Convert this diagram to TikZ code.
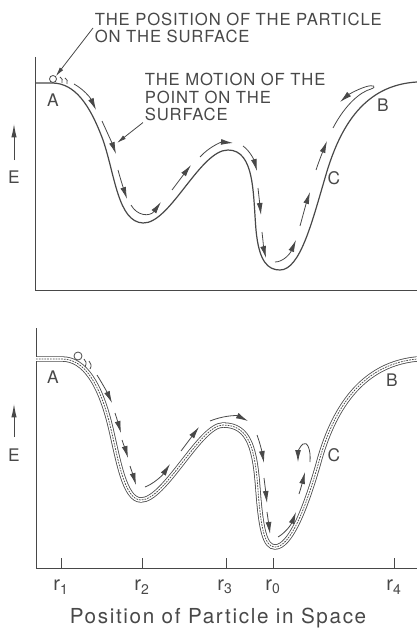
\documentclass[tikz,border=0pt]{standalone}
\usepackage{fontspec}
\setmainfont{TeX Gyre Heros}[LetterSpace=5]
\usetikzlibrary{arrows.meta}
\definecolor{ink}{RGB}{72,72,72}
\tikzset{every picture/.style={line width=0.75pt},
  surface/.style={draw=ink, line width=0.9pt},
  band/.style={draw=ink, line width=0.6pt, double=white, double distance=2.8pt},
  beads/.style={draw=ink, line width=0.55pt, dash pattern=on 1.3pt off 0.8pt},
  motion/.style={draw=ink, line width=0.6pt, -{Latex[length=9pt,width=4.4pt]}},
  leader/.style={draw=ink, line width=0.6pt, -{Latex[length=7pt,width=3.2pt]}},
  axis/.style={draw=ink, line width=0.7pt},
  lbl/.style={text=ink, font=\fontsize{13}{15}\selectfont},
  rlbl/.style={text=ink, font=\fontsize{15}{17}\selectfont},
  note/.style={text=ink, align=left, anchor=west, inner sep=1pt, font=\fontsize{12.5}{13}\selectfont}}
\begin{document}
\begin{tikzpicture}[x=0.75pt,y=0.75pt,yscale=-1,xscale=1]
\useasboundingbox (0,0) rectangle (417,631);

%%% Upper graph
%Shape: Axes
\draw [axis] (35,57) -- (35,290) -- (417,290) ;
%Curve Lines: surface
\draw [surface] (35,83) -- (52,83) .. controls (75,83) and (90,105) .. (103,140) .. controls (115,175) and (118,222) .. (143,223) .. controls (170,224) and (200,150) .. (228,150) .. controls (255,150) and (253,195) .. (256,230) .. controls (259,262) and (268,270) .. (280,270) .. controls (300,270) and (312,222) .. (325,178) .. controls (340,125) and (365,85) .. (417,82) ;
%Shape: Circle (particle)
\node [circle, draw=ink, line width=0.6pt, minimum size=5.25pt, inner sep=0pt] (partA) at (53,79) {} ;
\draw [ink, line width=0.6pt] (60,77) .. controls (62,78) and (63,80) .. (62,83) ;
\draw [ink, line width=0.6pt] (65,78) .. controls (67,79) and (68,81) .. (67,84) ;
%Curve Lines: motion of the point
\draw [motion] (74,84) .. controls (83,89) and (90,97) .. (96,110) ;
\draw [motion] (102,121) .. controls (107,132) and (112,143) .. (116,154) ;
\draw [motion] (118,170) .. controls (121,181) and (124,190) .. (127,199) ;
\draw [motion] (131,205) .. controls (137,216) and (150,217) .. (161,202) ;
\draw [motion] (172,190) .. controls (178,182) and (184,174) .. (191,165) ;
\draw [motion] (200,157) .. controls (210,146) and (222,142) .. (233,143) ;
\draw [motion] (243,146) .. controls (250,151) and (254,160) .. (257,171) ;
\draw [motion] (258,188) .. controls (259,197) and (260,206) .. (261,215) ;
\draw [motion] (262,232) .. controls (263,241) and (264,250) .. (266,258) ;
\draw [motion] (275,262) .. controls (283,262) and (290,254) .. (296,240) ;
\draw [motion] (300,226) .. controls (303,215) and (306,204) .. (310,192) ;
\draw [motion] (316,170) .. controls (319,161) and (323,151) .. (327,141) ;
\draw [motion] (333,128) .. controls (345,105) and (360,92) .. (371,89) .. controls (377,87) and (374,84) .. (365,87) .. controls (356,90) and (348,95) .. (340,102) ;

% Text Node
\node [note] (posnote) at (93,28) {THE POSITION OF THE PARTICLE\\ON THE SURFACE} ;
\draw [leader] (posnote.west) -- (partA.north east) ;
% Text Node
\node [note] (motionnote) at (143,97) {THE MOTION OF THE\\POINT ON THE\\SURFACE} ;
\coordinate (mtip) at (117,143) ;
\draw [leader] (motionnote.south west) -- (mtip) ;
% Text Node
\node [lbl] (labA1) at (53,100) {A} ;
\node [lbl] (labB1) at (383,105) {B} ;
\node [lbl] (labC1) at (334,178) {C} ;
\node [lbl] (labE1) at (14,177) {E} ;
\coordinate (ebot1) at (14,160) ;
\coordinate (etop1) at (14,124) ;
\draw [ink, line width=0.7pt, -{Latex[length=10pt,width=4pt]}] (ebot1) -- (etop1) ;

%%% Lower graph
%Shape: Axes
\draw [axis] (36,328) -- (36,568) -- (417,568) ;
\draw [axis] (61,568) -- (61,558) ;
\draw [axis] (142,568) -- (142,558) ;
\draw [axis] (226,568) -- (226,558) ;
\draw [axis] (273,568) -- (273,558) ;
\draw [axis] (394,568) -- (394,558) ;
%Curve Lines: surface
\draw [band] (36,359) -- (62,359) .. controls (85,359) and (100,385) .. (110,425) .. controls (118,458) and (124,500) .. (141,500) .. controls (165,500) and (200,425) .. (223,425) .. controls (250,425) and (255,450) .. (258,490) .. controls (261,530) and (265,547) .. (275,547) .. controls (290,547) and (305,510) .. (318,465) .. controls (330,420) and (355,365) .. (417,359) ;
\draw [beads] (36,359) -- (62,359) .. controls (85,359) and (100,385) .. (110,425) .. controls (118,458) and (124,500) .. (141,500) .. controls (165,500) and (200,425) .. (223,425) .. controls (250,425) and (255,450) .. (258,490) .. controls (261,530) and (265,547) .. (275,547) .. controls (290,547) and (305,510) .. (318,465) .. controls (330,420) and (355,365) .. (417,359) ;
%Shape: Circle (particle)
\node [circle, draw=ink, line width=0.6pt, minimum size=6pt, inner sep=0pt] (partB) at (78,356) {} ;
\draw [ink, line width=0.6pt] (84,359) .. controls (86,361) and (87,363) .. (85,367) ;
\draw [ink, line width=0.6pt] (89,361) .. controls (91,363) and (92,366) .. (90,369) ;
%Curve Lines: motion of the point
\draw [motion] (97,375) .. controls (102,383) and (107,392) .. (112,403) ;
\draw [motion] (115,413) .. controls (117,419) and (119,426) .. (121,433) ;
\draw [motion] (122,440) .. controls (124,446) and (126,451) .. (128,458) ;
\draw [motion] (130,466) .. controls (132,472) and (134,478) .. (136,485) ;
\draw [motion] (145,487) .. controls (153,484) and (162,476) .. (170,464) ;
\draw [motion] (181,451) .. controls (187,443) and (193,435) .. (199,427) ;
\draw [motion] (210,421) .. controls (222,416) and (236,415) .. (248,421) ;
\draw [motion] (257,435) .. controls (260,443) and (262,452) .. (264,463) ;
\draw [motion] (264,478) .. controls (265,486) and (266,494) .. (267,503) ;
\draw [motion] (267,512) .. controls (268,519) and (269,526) .. (270,534) ;
\draw [motion] (278,537) .. controls (285,533) and (291,525) .. (296,512) ;
\draw [motion] (299,494) .. controls (301,488) and (303,480) .. (305,472) ;
\draw [motion] (310,462) .. controls (311,449) and (307,441) .. (303,444) .. controls (300,446) and (298,452) .. (298,462) ;

% Text Node
\node [lbl] (labA2) at (53,377) {A} ;
\node [lbl] (labB2) at (392,380) {B} ;
\node [lbl] (labC2) at (334,455) {C} ;
\node [lbl] (labE2) at (14,455) {E} ;
\coordinate (ebot2) at (14,437) ;
\coordinate (etop2) at (14,404) ;
\draw [ink, line width=0.7pt, -{Latex[length=10pt,width=4pt]}] (ebot2) -- (etop2) ;
% Text Node
\node [rlbl] (r1) at (61,587) {r\textsubscript{1}} ;
\node [rlbl] (r2) at (142,587) {r\textsubscript{2}} ;
\node [rlbl] (r3) at (225,587) {r\textsubscript{3}} ;
\node [rlbl] (r0) at (273,587) {r\textsubscript{0}} ;
\node [rlbl] (r4) at (394,587) {r\textsubscript{4}} ;
% Text Node
\node [text=ink, font=\fontsize{15.5}{17}\selectfont\addfontfeature{LetterSpace=8}] (xtitle) at (218,618) {Position of Particle in Space} ;

\end{tikzpicture}
\end{document}
